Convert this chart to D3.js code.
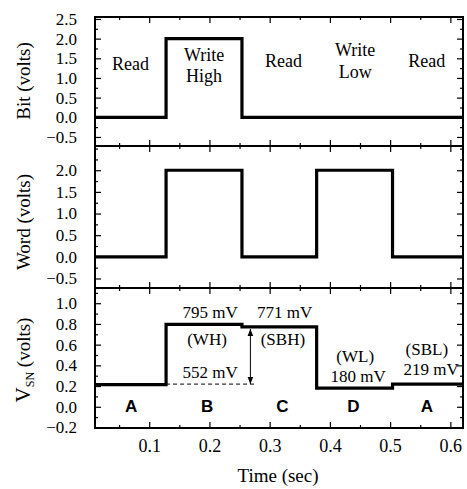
<!DOCTYPE html>
<html>
<head>
<meta charset="utf-8">
<script src="https://cdn.jsdelivr.net/npm/d3@7"></script>
<style>
  body { margin: 0; background: #fff; }
  text { font-family: "Liberation Serif", "Times New Roman", serif; }
</style>
</head>
<body>
<script>
// ### data
const timeBreaks = [0.01, 0.128, 0.254, 0.378, 0.504, 0.621];
const bitLevels = [0, 2, 0, 0, 0];
const wordLevels = [0, 2, 0, 2, 0];
const vsnLevels = [0.214, 0.795, 0.771, 0.180, 0.219];

const xMajor = [0.1, 0.2, 0.3, 0.4, 0.5, 0.6];
const xMinor = [0.05, 0.15, 0.25, 0.35, 0.45, 0.55];
const bitTicks = [-0.5, 0, 0.5, 1, 1.5, 2, 2.5];
const bitMinor = [-0.75, -0.25, 0.25, 0.75, 1.25, 1.75, 2.25];
const wordTicks = [-0.5, 0, 0.5, 1, 1.5, 2];
const wordMinor = [-0.25, 0.25, 0.75, 1.25, 1.75, 2.25, 2.5];
const vsnTicks = [-0.2, 0, 0.2, 0.4, 0.6, 0.8, 1.0];
const vsnMinor = [-0.1, 0.1, 0.3, 0.5, 0.7, 0.9, 1.1];

const phaseLabels = ["A", "B", "C", "D", "A"];
const opLabels = [["Read"], ["Write", "High"], ["Read"], ["Write", "Low"], ["Read"]];

const width = 467, height = 489;
const left = 95, right = 463;

const svg = d3.select("body").append("svg")
  .attr("width", width)
  .attr("height", height);

const x = d3.scaleLinear().domain([0.01, 0.621]).range([left, right]);

const panels = [
  { key: "bit", top: 17, bottom: 146, domain: [-0.73, 2.55], levels: bitLevels, ticks: bitTicks, minor: bitMinor },
  { key: "word", top: 146, bottom: 288, domain: [-0.72, 2.56], levels: wordLevels, ticks: wordTicks, minor: wordMinor },
  { key: "vsn", top: 288, bottom: 428, domain: [-0.205, 1.147], levels: vsnLevels, ticks: vsnTicks, minor: vsnMinor }
];

function stepPoints(levels) {
  const pts = levels.map((v, i) => [timeBreaks[i], v]);
  pts.push([timeBreaks[timeBreaks.length - 1], levels[levels.length - 1]]);
  return pts;
}

panels.forEach((p, pi) => {
  const y = d3.scaleLinear().domain(p.domain).range([p.bottom, p.top]);
  p.y = y;
  const g = svg.append("g");
  const minor = p.minor.filter(v => v > p.domain[0] && v < p.domain[1]);

  // ticks, all pointing inward
  g.append("g").attr("transform", `translate(${left},0)`)
    .call(d3.axisLeft(y).tickValues(p.ticks).tickSize(-6).tickPadding(18).tickFormat(d3.format(".1f")))
    .call(a => a.select(".domain").remove())
    .call(a => a.selectAll("text").attr("font-size", 17).attr("fill", "#000"));
  g.append("g").attr("transform", `translate(${left},0)`)
    .call(d3.axisLeft(y).tickValues(minor).tickSize(-3).tickFormat(""))
    .call(a => a.select(".domain").remove());
  g.append("g").attr("transform", `translate(${right},0)`)
    .call(d3.axisRight(y).tickValues(p.ticks).tickSize(-6).tickFormat(""))
    .call(a => a.select(".domain").remove());
  g.append("g").attr("transform", `translate(${right},0)`)
    .call(d3.axisRight(y).tickValues(minor).tickSize(-3).tickFormat(""))
    .call(a => a.select(".domain").remove());

  g.append("g").attr("transform", `translate(0,${p.top})`)
    .call(d3.axisTop(x).tickValues(xMajor).tickSize(-6).tickFormat(""))
    .call(a => a.select(".domain").remove());
  g.append("g").attr("transform", `translate(0,${p.top})`)
    .call(d3.axisTop(x).tickValues(xMinor).tickSize(-3).tickFormat(""))
    .call(a => a.select(".domain").remove());
  g.append("g").attr("transform", `translate(0,${p.bottom})`)
    .call(d3.axisBottom(x).tickValues(xMajor).tickSize(-6).tickPadding(11)
      .tickFormat(pi === 2 ? d3.format(".1f") : ""))
    .call(a => a.select(".domain").remove())
    .call(a => a.selectAll("text").attr("font-size", 18).attr("fill", "#000"));
  g.append("g").attr("transform", `translate(0,${p.bottom})`)
    .call(d3.axisBottom(x).tickValues(xMinor).tickSize(-3).tickFormat(""))
    .call(a => a.select(".domain").remove());

  g.selectAll(".tick line").attr("stroke", "#000").attr("stroke-width", 1.2);

  // dashed reference line in V_SN panel
  if (p.key === "vsn") {
    g.append("line")
      .attr("x1", x(0.128)).attr("x2", x(0.276))
      .attr("y1", y(vsnLevels[4])).attr("y2", y(vsnLevels[4]))
      .attr("stroke", "#000").attr("stroke-width", 1).attr("stroke-dasharray", "4,3");
  }

  // signal
  g.append("path")
    .datum(stepPoints(p.levels))
    .attr("fill", "none")
    .attr("stroke", "#000")
    .attr("stroke-width", 3.2)
    .attr("d", d3.line().x(d => x(d[0])).y(d => y(d[1])).curve(d3.curveStepAfter));

  // frame
  g.append("rect")
    .attr("x", left).attr("y", p.top)
    .attr("width", right - left).attr("height", p.bottom - p.top)
    .attr("fill", "none").attr("stroke", "#000").attr("stroke-width", 2);
});

// arrowheads
const defs = svg.append("defs");
defs.append("marker").attr("id", "head").attr("viewBox", "0 0 10 10")
  .attr("refX", 10).attr("refY", 5).attr("markerWidth", 7).attr("markerHeight", 7)
  .attr("markerUnits", "userSpaceOnUse").attr("orient", "auto-start-reverse")
  .append("path").attr("d", "M0,1 L10,5 L0,9 Z").attr("fill", "#000");

const [bitP, wordP, vsnP] = panels;

svg.append("line")
  .attr("x1", x(0.268)).attr("x2", x(0.268))
  .attr("y1", vsnP.y(vsnLevels[2]) + 2).attr("y2", vsnP.y(vsnLevels[4]))
  .attr("stroke", "#000").attr("stroke-width", 1)
  .attr("marker-start", "url(#head)").attr("marker-end", "url(#head)");

// operation labels in Bit panel
const opPos = [[0.069, [1.19]], [0.191, [1.44, 0.89]], [0.323, [1.27]], [0.442, [1.57, 0.99]], [0.561, [1.27]]];
opLabels.forEach((lines, i) => {
  lines.forEach((t, j) => {
    svg.append("text")
      .attr("x", x(opPos[i][0])).attr("y", bitP.y(opPos[i][1][j]))
      .attr("text-anchor", "middle").attr("font-size", 18).text(t);
  });
});

// V_SN annotations
const notes = [
  ["795 mV", 0.201, 0.86], ["(WH)", 0.196, 0.60], ["552 mV", 0.201, 0.28],
  ["771 mV", 0.325, 0.86], ["(SBH)", 0.322, 0.60],
  ["(WL)", 0.442, 0.436], ["180 mV", 0.447, 0.243],
  ["(SBL)", 0.561, 0.50], ["219 mV", 0.568, 0.31]
];
svg.selectAll(".note").data(notes).join("text")
  .attr("class", "note")
  .attr("x", d => x(d[1])).attr("y", d => vsnP.y(d[2]))
  .attr("text-anchor", "middle").attr("font-size", 17)
  .text(d => d[0]);

const phaseX = [0.070, 0.196, 0.321, 0.439, 0.561];
svg.selectAll(".phase").data(phaseLabels).join("text")
  .attr("class", "phase")
  .attr("x", (d, i) => x(phaseX[i])).attr("y", vsnP.y(-0.055))
  .attr("text-anchor", "middle")
  .attr("font-weight", "bold").attr("font-size", 17)
  .style("font-family", "'Liberation Sans', Arial, sans-serif")
  .text(d => d);

// axis titles
function yTitle(cy, build) {
  const t = svg.append("text")
    .attr("transform", `translate(30,${cy}) rotate(-90)`)
    .attr("text-anchor", "middle").attr("font-size", 19);
  build(t);
}
yTitle(81, t => t.text("Bit (volts)"));
yTitle(222, t => t.text("Word (volts)"));
yTitle(360, t => {
  t.append("tspan").attr("font-size", 21).text("V");
  t.append("tspan").attr("font-size", 12).attr("dy", 4).text("SN");
  t.append("tspan").attr("dy", -4).text(" (volts)");
});

svg.append("text")
  .attr("x", 278).attr("y", 482)
  .attr("text-anchor", "middle").attr("font-size", 19)
  .text("Time (sec)");
</script>
</body>
</html>
